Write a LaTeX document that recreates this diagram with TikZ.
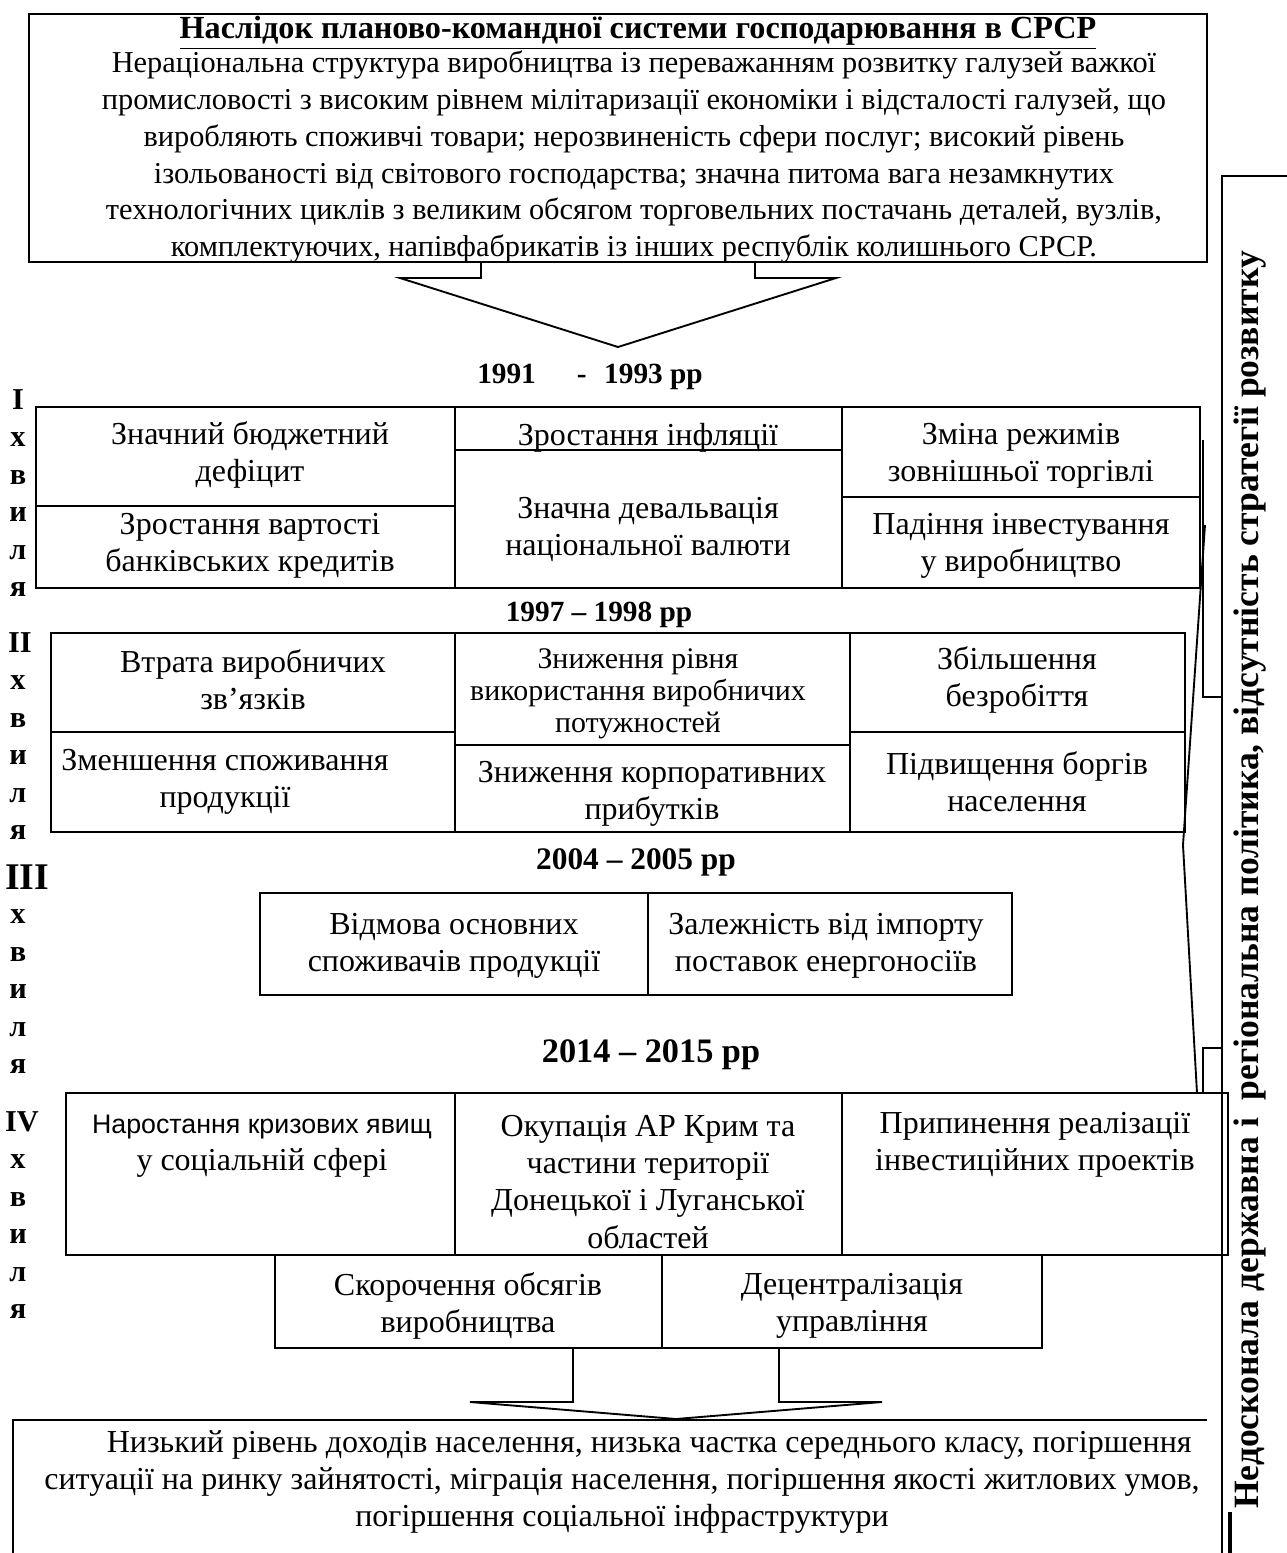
\documentclass[tikz,border=0pt]{standalone}
\usepackage{fontspec}
\setmainfont{Liberation Serif}
\newfontfamily\sansfont{Liberation Sans}
\usepackage{tikz}

\tikzset{
  txt/.style={align=center, inner sep=0pt, font=\fontsize{15.3}{17.7}\selectfont},
  toptxt/.style={align=center, inner sep=0pt, font=\fontsize{14.5}{17.6}\selectfont},
  smalltxt/.style={align=center, inner sep=0pt, font=\fontsize{14.3}{15.3}\selectfont},
  yearlbl/.style={inner sep=0pt, font=\fontsize{14}{17}\selectfont\bfseries},
  wavelbl/.style={inner sep=0pt, font=\fontsize{14.5}{17}\selectfont\bfseries},
}

\begin{document}
\begin{tikzpicture}[x=0.0168cm, y=-0.0168cm, line width=0.9pt]
    \useasboundingbox (0,0) rectangle (1287,1553);
    \clip (0,0) rectangle (1287,1553);
    % legacy box
    \draw (29,14) rectangle (1207,262);
    \node [toptxt, font=\fontsize{15.4}{17}\selectfont\bfseries] (title) at (638,33)
      {\underline{Наслідок планово-командної системи господарювання в СРСР}};
    \node [toptxt] (legacy) at (634,157)
      {Нераціональна структура виробництва із переважанням розвитку галузей важкої\\
       промисловості з високим рівнем мілітаризації економіки і відсталості галузей, що\\
       виробляють споживчі товари; нерозвиненість сфери послуг; високий рівень\\
       ізольованості від світового господарства; значна питома вага незамкнутих\\
       технологічних циклів з великим обсягом торговельних постачань деталей, вузлів,\\
       комплектуючих, напівфабрикатів із інших республік колишнього СРСР.};
    \coordinate (topTip) at (618,347);
    \draw (481,262) -- (481,278) -- (400,278) -- (topTip) -- (836,278) -- (755,278) -- (755,262);

    % wave labels
    \foreach \num/\lx/\ly/\fs in {I/18/400/14.5, II/20/643/14.5, III/27/877/18, IV/22/1122/14.5} {
      \node [wavelbl, font=\fontsize{\fs}{17}\selectfont\bfseries] (wave\num) at (\lx,\ly) {\num};
      \foreach \ch [count=\i] in {х,в,и,л,я}
        \node [wavelbl] (wave\num-\i) at (18,\ly+2.5+37.5*\i) {\ch};
    }

    % I
    \node [yearlbl] (y1) at (590,377) {1991\hspace{1.4em}-\hspace{0.6em}1993 рр};
    \draw (36,407) rectangle (1200,588);
    \draw (455,407) -- (455,588) (842,407) -- (842,588);
    \draw (36,506) -- (455,506) (455,450) -- (842,450) (842,497) -- (1200,497);
    \node [txt] (deficit)   at (250,455)  {Значний бюджетний\\дефіцит};
    \node [txt] (credits)   at (250,546)  {Зростання вартості\\банківських кредитів};
    \node [txt] (inflation) at (648,438)  {Зростання інфляції};
    \node [txt] (devalue)   at (648,529)  {Значна девальвація\\національної валюти};
    \node [txt] (trade)     at (1021,456) {Зміна режимів\\зовнішньої торгівлі};
    \node [txt] (invest)    at (1021,546) {Падіння інвестування\\у виробництво};

    % II
    \node [yearlbl] (y2) at (599,615) {1997 – 1998 рр};
    \draw (51,633) rectangle (1185,832);
    \draw (455,633) -- (455,832) (850,633) -- (850,832);
    \draw (51,732) -- (455,732) (455,745) -- (850,745) (850,732) -- (1185,732);
    \node [txt] (links)      at (253,680)  {Втрата виробничих\\зв’язків};
    \node [txt] (consume)    at (225,782)  {Зменшення споживання\\продукції};
    \node [smalltxt] (capacity) at (638,694) {Зниження рівня\\використання виробничих\\потужностей};
    \node [txt] (profits)    at (652,794)  {Зниження корпоративних\\прибутків};
    \node [txt] (unemploy)   at (1017,680) {Збільшення\\безробіття};
    \node [txt] (debts)      at (1017,782) {Підвищення боргів\\населення};

    % III
    \node [yearlbl, font=\fontsize{15}{17}\selectfont\bfseries] (y3) at (636,862) {2004 – 2005 рр};
    \draw (260,893) rectangle (1012,995);
    \draw (648,893) -- (648,995);
    \node [txt] (refusal) at (454,946) {Відмова основних\\споживачів продукції};
    \node [txt] (energy)  at (826,946) {Залежність від імпорту\\поставок енергоносіїв};

    % IV
    \node [yearlbl, font=\fontsize{16.4}{17}\selectfont\bfseries] (y4) at (651,1055) {2014 – 2015 рр};
    \draw (66,1093) rectangle (1228,1255);
    \draw (455,1093) -- (455,1255) (842,1093) -- (842,1255);
    \draw (275,1255) rectangle (1042,1348);
    \draw (662,1255) -- (662,1348);
    \node [txt] (social)   at (262,1146)  {{\sansfont\fontsize{12.8}{17.7}\selectfont Наростання кризових явищ}\\у соціальній сфері};
    \node [txt] (crimea)   at (648,1182)  {Окупація АР Крим та\\частини території\\Донецької і Луганської\\областей};
    \node [txt] (projects) at (1035,1145) {Припинення реалізації\\інвестиційних проектів};
    \node [txt] (output)   at (468,1306)  {Скорочення обсягів\\виробництва};
    \node [txt] (decentr)  at (852,1306)  {Децентралізація\\управління};

    \coordinate (botTip) at (676,1419);
    \draw (573,1348) -- (573,1402) -- (470,1402) -- (botTip) -- (882,1402) -- (779,1402) -- (779,1348);

    % result
    \draw (13,1600) -- (13,1420) -- (1207,1420);
    \node [txt] (result) at (622,1482)
      {\hspace*{26pt}Низький рівень доходів населення, низька частка середнього класу, погіршення\\
       ситуації на ринку зайнятості, міграція населення, погіршення якості житлових умов,\\
       погіршення соціальної інфраструктури};

    % policy side
    \draw (1300,176) -- (1222,176) -- (1222,1600);
    \draw (1203,440) -- (1203,697) -- (1222,697);
    \draw (1203,1093) -- (1203,1048) -- (1222,1048);
    \draw (1205,525) -- (1183,845) -- (1197,1093);
    \draw [line width=2pt] (1230,1512) -- (1230,1600);
    \node [rotate=90, inner sep=0pt, font=\fontsize{17}{20}\selectfont\bfseries] (policy) at (1250,880)
      {Недосконала державна і\ \ регіональна політика, відсутність стратегії розвитку};
\end{tikzpicture}
\end{document}
